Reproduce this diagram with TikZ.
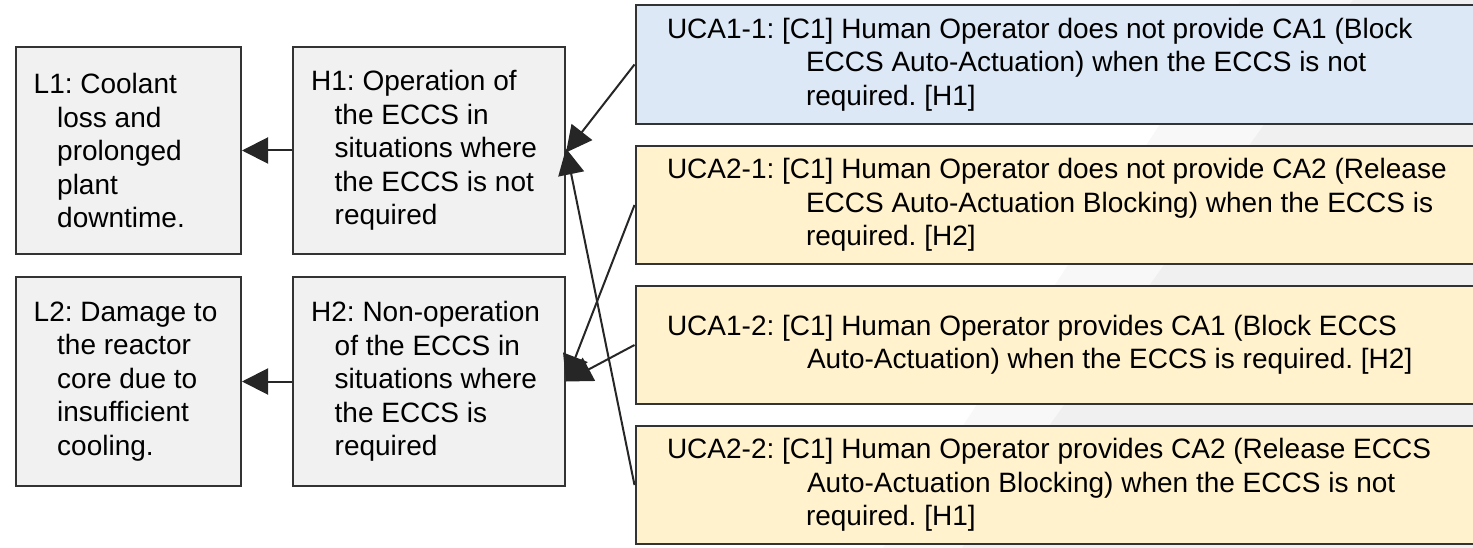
\documentclass[tikz,border=0pt]{standalone}
\usepackage{fontspec}
\setmainfont{Liberation Sans}
\usetikzlibrary{arrows.meta}
\frenchspacing

\definecolor{edge}{HTML}{333333}
\definecolor{lnk}{HTML}{262626}
\definecolor{grayfill}{HTML}{F1F1F1}
\definecolor{bluefill}{HTML}{DCE8F6}
\definecolor{yellowfill}{HTML}{FFF2CC}
\definecolor{bandA}{HTML}{F8F8F8}
\definecolor{bandB}{HTML}{F0F0F0}

\tikzset{
  box/.style 2 args={draw=edge, line width=2pt, inner sep=0pt,
    minimum width=#1, minimum height=#2},
  lossbox/.style={box={225.5pt}{#1}, fill=grayfill},
  hazbox/.style={box={272pt}{#1}, fill=grayfill},
  ucabox/.style={box={860pt}{#1}, anchor=west},
  txt/.style={anchor=west, align=left, inner sep=0pt,
    font=\fontsize{28}{33.5}\selectfont, text=black},
  arr/.style={draw=lnk, line width=2pt, -{Triangle[length=26pt,width=26pt]}},
}

\begin{document}
\begin{tikzpicture}[x=1pt,y=-1pt]
\useasboundingbox (0,0) rectangle (1473,548);
\clip (0,0) rectangle (1473,548);

% light diagonal bands in the background
\fill[bandA] (1241,0) -- (883,548) -- (1473,548) -- (1473,0) -- cycle;
\fill[bandB] (1353,0) -- (962,548) -- (1473,548) -- (1473,0) -- cycle;

% losses and hazards
\node[lossbox=207pt] (L1) at (128.25,150.5) {};
\node[hazbox=207pt]  (H1) at (429,150.5) {};
\node[lossbox=208pt] (L2) at (128.25,381.5) {};
\node[hazbox=208pt]  (H2) at (429,381.5) {};

\node[txt] (L1t) at ([xshift=19pt]L1.west) {L1: Coolant\\\hspace*{23.5pt}loss and\\\hspace*{23.5pt}prolonged\\\hspace*{23.5pt}plant\\\hspace*{23.5pt}downtime.};
\node[txt] (H1t) at ([xshift=19pt]H1.west) {H1: Operation of\\\hspace*{23.5pt}the ECCS in\\\hspace*{23.5pt}situations where\\\hspace*{23.5pt}the ECCS is not\\\hspace*{23.5pt}required};
\node[txt] (L2t) at ([xshift=19pt]L2.west) {L2: Damage to\\\hspace*{23.5pt}the reactor\\\hspace*{23.5pt}core due to\\\hspace*{23.5pt}insufficient\\\hspace*{23.5pt}cooling.};
\node[txt] (H2t) at ([xshift=19pt]H2.west) {H2: Non-operation\\\hspace*{23.5pt}of the ECCS in\\\hspace*{23.5pt}situations where\\\hspace*{23.5pt}the ECCS is\\\hspace*{23.5pt}required};

% unsafe control actions
\node[ucabox=119pt, fill=bluefill]   (U11) at (634.5,64.5) {};
\node[ucabox=118pt, fill=yellowfill] (U21) at (634.5,205) {};
\node[ucabox=118pt, fill=yellowfill] (U12) at (634.5,345) {};
\node[ucabox=118pt, fill=yellowfill] (U22) at (634.5,485) {};

\node[txt] (U11t) at ([xshift=32.3pt]U11.west) {UCA1-1: [C1] Human Operator does not provide CA1 (Block\\\hspace*{139pt}ECCS Auto-Actuation) when the ECCS is not\\\hspace*{139pt}required. [H1]};
\node[txt] (U21t) at ([xshift=32.3pt]U21.west) {UCA2-1: [C1] Human Operator does not provide CA2 (Release\\\hspace*{139pt}ECCS Auto-Actuation Blocking) when the ECCS is\\\hspace*{139pt}required. [H2]};
\node[txt] (U12t) at ([xshift=32.3pt]U12.west) {UCA1-2: [C1] Human Operator provides CA1 (Block ECCS\\\hspace*{140pt}Auto-Actuation) when the ECCS is required. [H2]};
\node[txt] (U22t) at ([xshift=32.3pt]U22.west) {UCA2-2: [C1] Human Operator provides CA2 (Release ECCS\\\hspace*{140pt}Auto-Actuation Blocking) when the ECCS is not\\\hspace*{139pt}required. [H1]};

% links
\draw[arr] (H1.west) -- (L1.east);
\draw[arr] (H2.west) -- (L2.east);
\draw[arr] (U11.west) -- ([yshift=-2pt]H1.east);
\draw[arr] (U22.west) -- ([yshift=2pt]H1.east);
\draw[arr] (U21.west) -- (H2.east);
\draw[arr] (U12.west) -- (H2.east);
\end{tikzpicture}
\end{document}
